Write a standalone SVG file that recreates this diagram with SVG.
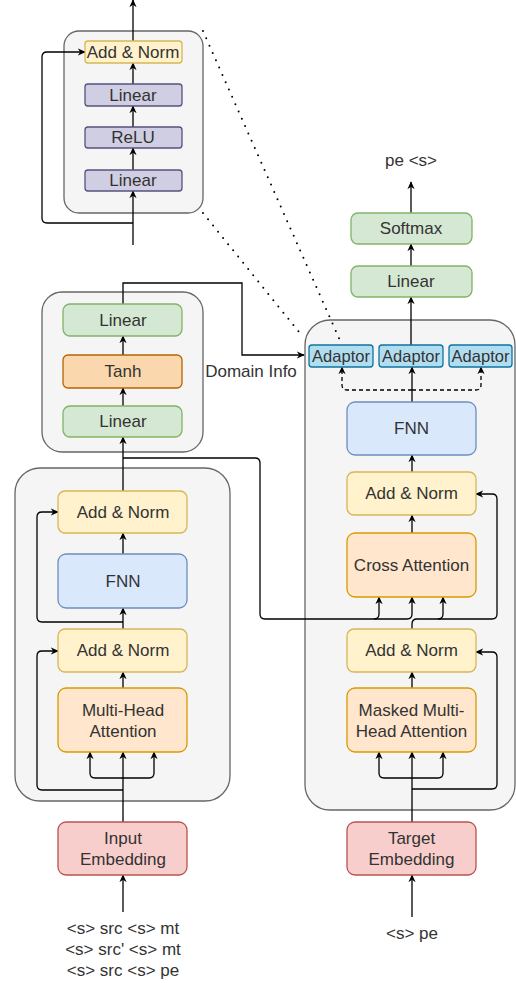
<svg xmlns="http://www.w3.org/2000/svg" width="516" height="983" viewBox="0 0 516 983">
<style>
text{font-family:"Liberation Sans",Arial,sans-serif;font-size:17px;fill:#333;text-anchor:middle;dominant-baseline:central}
.c{fill:#f5f5f5;stroke:#666;stroke-width:1.3}
.y{fill:#fff2cc;stroke:#d6b656;stroke-width:1.3}
.b{fill:#dae8fc;stroke:#6c8ebf;stroke-width:1.3}
.o{fill:#ffe6cc;stroke:#d79b00;stroke-width:1.3}
.g{fill:#d5e8d4;stroke:#82b366;stroke-width:1.3}
.r{fill:#f8cecc;stroke:#b85450;stroke-width:1.3}
.t{fill:#fad7ac;stroke:#b46504;stroke-width:1.3}
.p{fill:#d0cee2;stroke:#56517e;stroke-width:1.3}
.a{fill:#b1ddf0;stroke:#10739e;stroke-width:1.3}
.l{fill:none;stroke:#000;stroke-width:1.3}
.ar{marker-end:url(#ah)}
.d{stroke-dasharray:4 3}
.dot{fill:none;stroke:#000;stroke-width:2;stroke-dasharray:0 8;stroke-linecap:round}
</style>
<defs>
<marker id="ah" viewBox="0 0 10 10" refX="9" refY="5" markerWidth="8" markerHeight="8" markerUnits="userSpaceOnUse" orient="auto">
<path d="M0,0.5 L10,5 L0,9.5 L3,5 z" fill="#000"/>
</marker>
</defs>

<g id="containers">
<rect id="ffn-box" class="c" x="64" y="31" width="139" height="182" rx="15"/>
<rect id="pooler-box" class="c" x="42" y="292" width="161" height="160" rx="20"/>
<rect id="encoder-box" class="c" x="15" y="468" width="215" height="333" rx="25"/>
<rect id="decoder-box" class="c" x="305" y="320" width="210" height="490" rx="25"/>
</g>

<g id="connectors">
<!-- dotted zoom lines -->
<path class="dot" d="M203,31 L342,345"/>
<path class="dot" d="M203,213 L303,337"/>
<!-- top-left FFN -->
<path class="l ar" d="M133,245 L133,191"/>
<path class="l ar" d="M133,170 L133,148"/>
<path class="l ar" d="M133,127 L133,106"/>
<path class="l ar" d="M133,84 L133,63"/>
<path class="l ar" d="M133,41 L133,0"/>
<path class="l ar" d="M133,223 L47,223 Q42,223 42,218 L42,57 Q42,52 47,52 L85,52"/>
<!-- encoder -->
<path class="l ar" d="M123,912 L123,875"/>
<path class="l ar" d="M123,822 L123,752"/>
<path class="l ar" d="M123,778 L95,778 Q90,778 90,773 L90,752"/>
<path class="l ar" d="M123,778 L149,778 Q154,778 154,773 L154,752"/>
<path class="l ar" d="M123,790 L42,790 Q37,790 37,785 L37,656 Q37,651 42,651 L58,651"/>
<path class="l ar" d="M123,688 L123,672"/>
<path class="l ar" d="M123,629 L123,608"/>
<path class="l ar" d="M123,622 L42,622 Q37,622 37,617 L37,517 Q37,512 42,512 L58,512"/>
<path class="l ar" d="M123,554 L123,533"/>
<path class="l ar" d="M123,491 L123,437"/>
<!-- pooler -->
<path class="l ar" d="M123,406 L123,388"/>
<path class="l ar" d="M123,355 L123,336"/>
<path class="l ar" d="M123,304 L123,283 L242,283 L242,355 L304,355"/>
<!-- encoder to cross attention -->
<path class="l ar" d="M123,458 L255,458 Q260,458 260,463 L260,614 Q260,619 265,619 L374,619 Q379,619 379,614 L379,597"/>
<path class="l ar" d="M374,619 L407,619 Q412,619 412,614 L412,597"/>
<!-- decoder -->
<path class="l ar" d="M412,917 L412,875"/>
<path class="l ar" d="M412,822 L412,752"/>
<path class="l ar" d="M412,778 L384,778 Q379,778 379,773 L379,752"/>
<path class="l ar" d="M412,778 L438,778 Q443,778 443,773 L443,752"/>
<path class="l ar" d="M412,789 L492,789 Q497,789 497,784 L497,657 Q497,652 492,652 L476,652"/>
<path class="l ar" d="M412,688 L412,672"/>
<path class="l ar" d="M412,629 L412,624 Q412,619 417,619 L438,619 Q443,619 443,614 L443,597"/>
<path class="l ar" d="M438,619 L492,619 Q497,619 497,614 L497,499 Q497,494 492,494 L476,494"/>
<path class="l ar" d="M412,533 L412,515"/>
<path class="l ar" d="M412,472 L412,455"/>
<path class="l ar" d="M412,402 L412,367"/>
<path class="l ar d" d="M412,390 L347,390 Q342,390 342,385 L342,367"/>
<path class="l ar d" d="M412,390 L476,390 Q481,390 481,385 L481,367"/>
<path class="l ar" d="M411,345 L411,297"/>
<path class="l ar" d="M411,266 L411,244"/>
<path class="l ar" d="M411,213 L411,182"/>
</g>

<g id="ffn-addnorm"><rect class="y" x="85" y="41" width="97" height="22" rx="3"/><text x="133" y="52">Add &amp; Norm</text></g>
<g id="ffn-linear2"><rect class="p" x="85" y="84" width="97" height="22" rx="3"/><text x="133" y="95">Linear</text></g>
<g id="ffn-relu"><rect class="p" x="85" y="127" width="97" height="21" rx="3"/><text x="133" y="137.5">ReLU</text></g>
<g id="ffn-linear1"><rect class="p" x="85" y="170" width="97" height="21" rx="3"/><text x="133" y="180.5">Linear</text></g>

<g id="pool-linear2"><rect class="g" x="63" y="304" width="119" height="32" rx="7"/><text x="123" y="320">Linear</text></g>
<g id="pool-tanh"><rect class="t" x="63" y="355" width="119" height="33" rx="5"/><text x="123" y="371.5">Tanh</text></g>
<g id="pool-linear1"><rect class="g" x="63" y="406" width="119" height="31" rx="7"/><text x="123" y="421.5">Linear</text></g>

<g id="domain-info"><text x="251" y="371">Domain Info</text></g>

<g id="enc-addnorm2"><rect class="y" x="58" y="491" width="129" height="42" rx="7"/><text x="123" y="512">Add &amp; Norm</text></g>
<g id="enc-fnn"><rect class="b" x="58" y="554" width="129" height="54" rx="8"/><text x="123" y="581">FNN</text></g>
<g id="enc-addnorm1"><rect class="y" x="58" y="629" width="129" height="43" rx="7"/><text x="123" y="650.5">Add &amp; Norm</text></g>
<g id="enc-mha"><rect class="o" x="58" y="688" width="129" height="64" rx="8"/><text x="123" y="710">Multi-Head</text><text x="123" y="731">Attention</text></g>
<g id="input-emb"><rect class="r" x="58" y="822" width="129" height="53" rx="8"/><text x="123" y="838">Input</text><text x="123" y="859">Embedding</text></g>
<g id="input-text"><text x="123" y="928">&lt;s&gt; src &lt;s&gt; mt</text><text x="123" y="949">&lt;s&gt; src' &lt;s&gt; mt</text><text x="123" y="970">&lt;s&gt; src &lt;s&gt; pe</text></g>

<g id="output-text"><text x="411" y="160">pe &lt;s&gt;</text></g>
<g id="dec-softmax"><rect class="g" x="351" y="213" width="121" height="31" rx="7"/><text x="411" y="228.5">Softmax</text></g>
<g id="dec-linear"><rect class="g" x="351" y="266" width="121" height="31" rx="7"/><text x="411" y="281.5">Linear</text></g>
<g id="adaptor1"><rect class="a" x="309" y="345" width="64" height="22" rx="3"/><text x="341" y="356" style="font-size:16.5px">Adaptor</text></g>
<g id="adaptor2"><rect class="a" x="379" y="345" width="64" height="22" rx="3"/><text x="411" y="356" style="font-size:16.5px">Adaptor</text></g>
<g id="adaptor3"><rect class="a" x="449" y="345" width="63" height="22" rx="3"/><text x="480.5" y="356" style="font-size:16.5px">Adaptor</text></g>
<g id="dec-fnn"><rect class="b" x="347" y="402" width="129" height="53" rx="8"/><text x="411.5" y="428.5">FNN</text></g>
<g id="dec-addnorm2"><rect class="y" x="347" y="472" width="129" height="43" rx="7"/><text x="411.5" y="493.5">Add &amp; Norm</text></g>
<g id="dec-cross"><rect class="o" x="347" y="533" width="129" height="64" rx="8"/><text x="411.5" y="565">Cross Attention</text></g>
<g id="dec-addnorm1"><rect class="y" x="347" y="629" width="129" height="43" rx="7"/><text x="411.5" y="650.5">Add &amp; Norm</text></g>
<g id="dec-mmha"><rect class="o" x="347" y="688" width="129" height="64" rx="8"/><text x="411.5" y="710">Masked Multi-</text><text x="411.5" y="731">Head Attention</text></g>
<g id="target-emb"><rect class="r" x="347" y="822" width="129" height="53" rx="8"/><text x="411.5" y="838">Target</text><text x="411.5" y="859">Embedding</text></g>
<g id="target-text"><text x="412" y="933">&lt;s&gt; pe</text></g>
</svg>
